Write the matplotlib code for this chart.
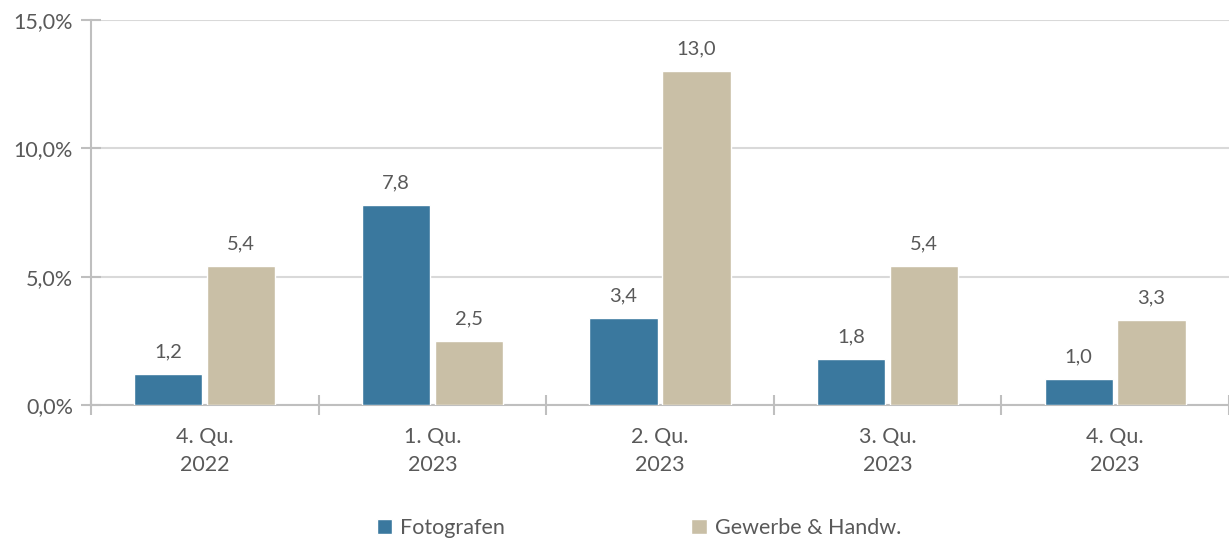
import matplotlib.pyplot as plt
import numpy as np

categories = ["4. Qu.\n2022", "1. Qu.\n2023", "2. Qu.\n2023", "3. Qu.\n2023", "4. Qu.\n2023"]
fotografen = [1.2, 7.8, 3.4, 1.8, 1.0]
gewerbe = [5.4, 2.5, 13.0, 5.4, 3.3]
series_names = ["Fotografen", "Gewerbe & Handw."]
y_ticks = [0, 5, 10, 15]

blue = "#3A789E"
beige = "#C9BFA6"
text_col = "#595959"
axis_col = "#BFBFBF"
grid_col = "#D9D9D9"

plt.rcParams["font.family"] = ["Lato", "DejaVu Sans"]

fig = plt.figure(figsize=(12.29, 5.43), dpi=100)
ax = fig.add_axes([0.074, 0.254, 0.926, 0.709])

x = np.arange(len(categories))
w = 0.30
b1 = ax.bar(x - 0.16, fotografen, w, color=blue, edgecolor="white", linewidth=1, label=series_names[0], zorder=3)
b2 = ax.bar(x + 0.16, gewerbe, w, color=beige, edgecolor="white", linewidth=1, label=series_names[1], zorder=3)

for bars, vals in ((b1, fotografen), (b2, gewerbe)):
    for rect, v in zip(bars, vals):
        ax.annotate(f"{v:.1f}".replace(".", ","),
                    xy=(rect.get_x() + rect.get_width() / 2, v),
                    xytext=(0, 10), textcoords="offset points",
                    ha="center", va="bottom", fontsize=14.5, color=text_col)

ax.set_xlim(-0.5, len(categories) - 0.5)
ax.set_ylim(0, 15)
ax.set_yticks(y_ticks)
ax.set_yticklabels([f"{t:.1f}%".replace(".", ",") for t in y_ticks])
ax.set_xticks(x)
ax.set_xticklabels(categories, linespacing=1.45)
ax.set_xticks(np.arange(len(categories) + 1) - 0.5, minor=True)
ax.tick_params(axis="x", which="major", length=0, pad=16, labelsize=15.5, labelcolor=text_col)
ax.tick_params(axis="x", which="minor", direction="inout", length=14, color=axis_col, width=1.5)
ax.tick_params(axis="y", direction="inout", length=14, color=axis_col, width=1.5,
               labelsize=15.5, labelcolor=text_col, pad=6)

ax.grid(axis="y", color=grid_col, linewidth=1.5, zorder=0)
for s in ("top", "right"):
    ax.spines[s].set_visible(False)
for s in ("left", "bottom"):
    ax.spines[s].set_color(axis_col)
    ax.spines[s].set_linewidth(1.5)

fig.legend(handles=[b1, b2], labels=series_names, loc="center", bbox_to_anchor=(0.52, 0.028),
           ncol=2, frameon=False, fontsize=15.5, labelcolor=text_col,
           handlelength=0.7, handleheight=0.7, handletextpad=0.4, columnspacing=8.65)

fig.savefig("out.png", dpi=100)
